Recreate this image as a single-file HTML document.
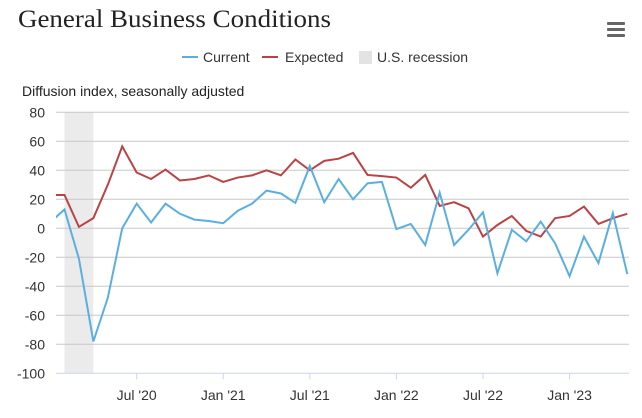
<!DOCTYPE html>
<html><head><meta charset="utf-8"><style>
body{margin:0;background:#fff;width:642px;height:413px;overflow:hidden;font-family:"Liberation Sans",sans-serif}
</style></head><body>
<svg id="chart" width="642" height="413" xmlns="http://www.w3.org/2000/svg">
<text x="18" y="27" font-family="Liberation Serif,serif" font-size="25" textLength="313" lengthAdjust="spacingAndGlyphs" fill="#222">General Business Conditions</text>
<g fill="#666">
<rect x="607" y="22" width="18" height="3" rx="1"/><rect x="607" y="28" width="18" height="3" rx="1"/><rect x="607" y="34" width="18" height="3" rx="1"/></g>
<g font-size="14" fill="#333">
<g><line x1="182" y1="57" x2="198" y2="57" stroke="#5aafe0" stroke-width="2"/><text x="203" y="62">Current</text></g>
<g><line x1="262" y1="57" x2="278" y2="57" stroke="#b94345" stroke-width="2"/><text x="285" y="62">Expected</text></g>
<g><rect x="359" y="51" width="13" height="13" fill="#e3e3e3"/><text x="377" y="62">U.S. recession</text></g>
</g>
<text x="22" y="96" font-size="14" fill="#222">Diffusion index, seasonally adjusted</text>
<g id="grid"></g><g id="plot"></g><g id="axes"></g>
</svg>
<script>
const months=["2020-01","2020-02","2020-03","2020-04","2020-05","2020-06","2020-07","2020-08","2020-09","2020-10","2020-11","2020-12","2021-01","2021-02","2021-03","2021-04","2021-05","2021-06","2021-07","2021-08","2021-09","2021-10","2021-11","2021-12","2022-01","2022-02","2022-03","2022-04","2022-05","2022-06","2022-07","2022-08","2022-09","2022-10","2022-11","2022-12","2023-01","2023-02","2023-03","2023-04","2023-05"];
const current=[4,13,-21,-78,-48,0,17,4,17,10,6,5,3.5,12,17,26,24,17.5,43,18,34,20,31,32,-0.5,3,-11.5,24.6,-11.5,-1,11,-31,-1,-9,4.6,-10.4,-33,-5.8,-24,10.5,-31.5];
const expected=[23,23,1,7,30,56.5,38.5,34,40.5,33,34,36.5,32,35,36.5,40,36.5,47.5,40,46.5,48,52,36.8,36,35,28,36.8,15.4,18,13.8,-5.7,2.3,8.5,-1.8,-5.7,7,8.5,15,3,7,10];
const yTicks=[80,60,40,20,0,-20,-40,-60,-80,-100];
const xTickLabels=["Jul '20","Jan '21","Jul '21","Jan '22","Jul '22","Jan '23"];
const xTickIdx=[6,12,18,24,30,36];
const recession=[1,3];
const NS="http://www.w3.org/2000/svg";
const L=56,R=629,T=112.3,B=373.3;
const x=i=>64.5+(i-1)*14.43;
const y=v=>T+(80-v)*(B-T)/180;
function mk(t,a,p){const e=document.createElementNS(NS,t);for(const k in a)e.setAttribute(k,a[k]);p.appendChild(e);return e;}
const grid=document.getElementById('grid'),plot=document.getElementById('plot'),axes=document.getElementById('axes');
const defs=mk('defs',{},plot);const cp=mk('clipPath',{id:'c'},defs);mk('rect',{x:L,y:0,width:R-L,height:413},cp);
const rb=mk('rect',{x:x(recession[0]),y:T,width:x(recession[1])-x(recession[0]),height:B-T,fill:'#ebebeb'},grid);


yTicks.forEach(v=>{
 const ln=mk('line',{x1:L,x2:R,y1:y(v),y2:y(v),stroke:v==-100?'#ccd6eb':'#c8c8c8','stroke-width':1},grid);
 
 
 const t=mk('text',{x:45,y:y(v)+5,'text-anchor':'end','font-size':14,fill:'#333'},axes);t.textContent=v;
 
 
});
xTickIdx.forEach((i,k)=>{
 const tk=mk('line',{x1:x(i),x2:x(i),y1:B,y2:B+6,stroke:'#ccd6eb'},axes);
 
 
 const t=mk('text',{x:x(i),y:400,'text-anchor':'middle','font-size':14,fill:'#333'},axes);t.textContent=xTickLabels[k];
 
 
});
function line(d,c,n){const p=mk('path',{d:d.map((v,i)=>(i?'L':'M')+x(i)+','+y(v)).join(''),fill:'none',stroke:c,'stroke-width':2,'clip-path':'url(#c)'},plot);
 
 }
line(expected,'#b94345','expected-line');
line(current,'#5aafe0','current-line');
</script>
</body></html>
